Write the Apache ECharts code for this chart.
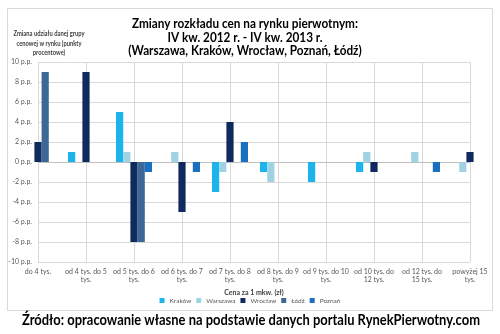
<!DOCTYPE html>
<html><head><meta charset="utf-8">
<script src="https://cdn.jsdelivr.net/npm/echarts@6/dist/echarts.min.js"></script>
<style>html,body{margin:0;padding:0;background:#fff}#c{width:500px;height:334px}</style>
</head><body><div id="c"></div>
<script>
const categories = ['do 4 tys.', 'od 4 tys. do 5\ntys.', 'od 5 tys. do 6\ntys.', 'od 6 tys. do 7\ntys.', 'od 7 tys. do 8\ntys.', 'od 8 tys. do 9\ntys.', 'od 9 tys. do 10\ntys.', 'od 10 tys. do\n12 tys.', 'od 12 tys. do\n15 tys.', 'powyżej 15\ntys.'];
const seriesNames = ['Kraków', 'Warszawa', 'Wrocław', 'Łódź', 'Poznań'];
const krakow   = [0, 1, 5, 0, -3, -1, -2, -1, 0, 0];
const warszawa = [0, 0, 1, 1, -1, -2, 0, 1, 1, -1];
const wroclaw  = [2, 9, -8, -5, 4, 0, 0, -1, 0, 1];
const lodz     = [9, 0, -8, 0, 0, 0, 0, 0, 0, 0];
const poznan   = [0, 0, -1, -1, 2, 0, 0, 0, -1, 0];
const titleLines = ['Zmiany rozkładu cen na rynku pierwotnym:', 'IV kw. 2012 r. - IV kw. 2013 r.', '(Warszawa, Kraków, Wrocław, Poznań, Łódź)'];
const yNameLines = ['Zmiana udziału danej grupy', 'cenowej w rynku (punkty', 'procentowe)'];
const xName = 'Cena za 1 mkw. (zł)';
const sourceText = 'Źródło: opracowanie własne na podstawie danych portalu RynekPierwotny.com';
const yUnit = ' p.p.';

const colors = ['#1cb4ec', '#9fd3e2', '#0e2a5e', '#3c6796', '#1a70bf'];
const values = [krakow, warszawa, wroclaw, lodz, poznan];

const ctx = document.createElement('canvas').getContext('2d');
function fit(text, font, target) { ctx.font = font; return target / ctx.measureText(text).width; }

const titleFont = 'bold 13px Lato';
const tScale = fit(titleLines[0], titleFont, 226);
const yFont = 'bold 7px Lato';
const yScale = fit(yNameLines[0], yFont, 71);
const srcFont = 'bold 15px Lato';
const sScale = fit(sourceText, srcFont, 458);

const graphics = [
  { type: 'rect', shape: { x: 7.5, y: 8.5, width: 485, height: 302 }, style: { fill: 'none', stroke: '#d9d9d9', lineWidth: 1 }, silent: true }
];
const tY = [24, 37.5, 51];
titleLines.forEach((t, i) => graphics.push({ type: 'text', x: 245, y: tY[i], scaleX: tScale, style: { text: t, font: titleFont, fill: '#000', align: 'center', verticalAlign: 'middle' } }));
const yY = [34, 43.5, 53];
yNameLines.forEach((t, i) => graphics.push({ type: 'text', x: 49, y: yY[i], scaleX: yScale, style: { text: t, font: yFont, fill: '#404040', align: 'center', verticalAlign: 'middle' } }));
graphics.push({ type: 'text', x: 251, y: 320, scaleX: sScale, style: { text: sourceText, font: srcFont, fill: '#000', align: 'center', verticalAlign: 'middle' } });

const chart = echarts.init(document.getElementById('c'), null, { renderer: 'canvas' });
chart.setOption({
  animation: false,
  backgroundColor: '#fff',
  textStyle: { fontFamily: 'Lato' },
  grid: { left: 38, right: 30, top: 62, bottom: 72, containLabel: false },
  legend: {
    data: seriesNames, bottom: 25, left: 'center', icon: 'rect', itemWidth: 5, itemHeight: 5, itemGap: 5,
    textStyle: { fontSize: 6.5, color: '#595959', fontFamily: 'Lato' }
  },
  xAxis: {
    type: 'category', data: categories, boundaryGap: false,
    axisLine: { onZero: true, lineStyle: { color: '#bfbfbf' } },
    axisTick: { show: false },
    axisLabel: { interval: 0, fontSize: 7, lineHeight: 8, color: '#595959', margin: 6, fontFamily: 'Lato' },
    splitLine: { show: true, interval: 0, lineStyle: { color: '#d9d9d9' } },
    name: xName, nameLocation: 'middle', nameGap: 23,
    nameTextStyle: { fontSize: 7, fontWeight: 'bold', color: '#404040', fontFamily: 'Lato' }
  },
  yAxis: {
    type: 'value', min: -10, max: 10, interval: 2,
    axisLine: { show: false },
    axisTick: { show: false },
    axisLabel: { formatter: v => v + yUnit, fontSize: 7, color: '#595959', margin: 6, fontFamily: 'Lato' },
    splitLine: { lineStyle: { color: '#d9d9d9' } }
  },
  series: seriesNames.map((n, i) => ({
    name: n, type: 'bar', data: values[i], barGap: '0%', barCategoryGap: '25%', clip: true,
    itemStyle: { color: colors[i] }
  })),
  graphic: graphics
});
</script></body></html>
